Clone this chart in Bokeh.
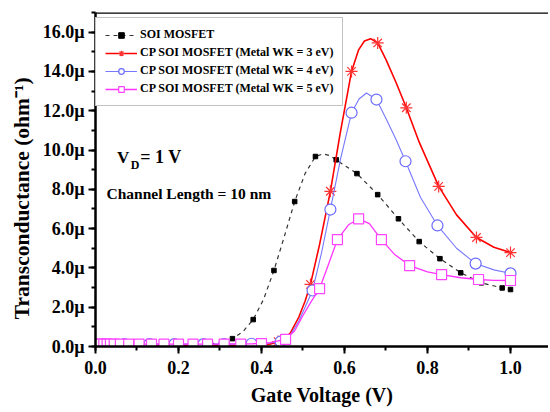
from bokeh.plotting import figure
from bokeh.models import (Range1d, SingleIntervalTicker, PrintfTickFormatter, Legend, LegendItem,
                          Label, Span)
from bokeh.embed import file_html
from bokeh.resources import INLINE

# ---- data (transconductance in micro-ohm^-1) ----
soi_x = [0.03, 0.08, 0.13, 0.18, 0.23, 0.28, 0.33, 0.38, 0.43, 0.48, 0.53, 0.58, 0.63, 0.68,
         0.73, 0.78, 0.83, 0.88, 0.93, 0.98, 1.0]
soi_y = [0.0, 0.0, 0.0, 0.0, 0.01, 0.05, 0.4, 1.37, 3.87, 7.38, 9.67, 9.5, 8.8, 7.73,
         6.5, 5.34, 4.47, 3.75, 3.24, 2.98, 2.9]
soi_curve_x = [0.0, 0.1, 0.2, 0.25, 0.28, 0.30, 0.33, 0.355, 0.38, 0.405, 0.43, 0.455, 0.48,
               0.505, 0.53, 0.548, 0.565, 0.58, 0.63, 0.68, 0.73, 0.78, 0.83, 0.88, 0.93, 0.98, 1.0]
soi_curve_y = [0.0, 0.0, 0.0, 0.01, 0.05, 0.12, 0.4, 0.75, 1.37, 2.4, 3.87, 5.6, 7.38,
               8.8, 9.67, 9.8, 9.72, 9.5, 8.8, 7.73, 6.5, 5.34, 4.47, 3.75, 3.24, 2.98, 2.9]

red_x = [0.44, 0.518, 0.566, 0.617, 0.68, 0.749, 0.827, 0.918, 1.0]
red_y = [0.25, 3.16, 7.9, 14.0, 15.45, 12.15, 8.15, 5.55, 4.78]
red_curve_x = [0.0, 0.1, 0.2, 0.3, 0.38, 0.42, 0.45, 0.47, 0.49, 0.505, 0.518, 0.54, 0.566,
               0.59, 0.617, 0.634, 0.648, 0.663, 0.68, 0.70, 0.725, 0.749, 0.78, 0.827, 0.87,
               0.918, 0.96, 1.0]
red_curve_y = [0.05, 0.05, 0.05, 0.05, 0.06, 0.12, 0.3, 0.7, 1.5, 2.3, 3.16, 5.2, 7.9,
               10.9, 14.0, 15.1, 15.55, 15.67, 15.45, 14.6, 13.4, 12.15, 10.4, 8.15, 6.7,
               5.55, 5.05, 4.78]

blue_x = [0.02, 0.07, 0.13, 0.19, 0.26, 0.31, 0.376, 0.446, 0.523, 0.566, 0.617, 0.677,
          0.747, 0.824, 0.916, 1.0]
blue_y = [0.12, 0.12, 0.12, 0.12, 0.12, 0.12, 0.14, 0.25, 2.85, 6.97, 11.9, 12.57,
          9.43, 6.16, 4.22, 3.72]
blue_curve_x = [0.0, 0.1, 0.2, 0.3, 0.38, 0.42, 0.446, 0.47, 0.49, 0.505, 0.523, 0.545, 0.566,
                0.59, 0.617, 0.635, 0.653, 0.677, 0.70, 0.725, 0.747, 0.783, 0.824, 0.87,
                0.916, 0.96, 1.0]
blue_curve_y = [0.12, 0.12, 0.12, 0.12, 0.14, 0.18, 0.25, 0.6, 1.3, 2.0, 2.85, 4.8, 6.97,
                9.5, 11.9, 12.6, 12.9, 12.57, 11.6, 10.5, 9.43, 7.6, 6.16, 5.0,
                4.22, 3.9, 3.72]

pink_x = [0.005, 0.012, 0.02, 0.028, 0.036, 0.045, 0.06, 0.08, 0.105, 0.135, 0.165, 0.2,
          0.235, 0.27, 0.31, 0.35, 0.4, 0.458, 0.54, 0.583, 0.634, 0.689, 0.757, 0.834,
          0.923, 1.0]
pink_y = [0.12, 0.12, 0.12, 0.12, 0.12, 0.12, 0.12, 0.12, 0.12, 0.12, 0.12, 0.12,
          0.12, 0.12, 0.12, 0.12, 0.15, 0.36, 2.95, 5.44, 6.5, 5.44, 4.12, 3.66,
          3.41, 3.36]
pink_curve_x = [0.0, 0.1, 0.2, 0.3, 0.38, 0.42, 0.458, 0.48, 0.50, 0.52, 0.54, 0.56, 0.583,
                0.61, 0.634, 0.66, 0.689, 0.72, 0.757, 0.80, 0.834, 0.88, 0.923, 0.96, 1.0]
pink_curve_y = [0.12, 0.12, 0.12, 0.12, 0.14, 0.2, 0.36, 0.8, 1.58, 2.3, 2.95, 4.1, 5.44,
                6.2, 6.5, 6.25, 5.44, 4.7, 4.12, 3.8, 3.66, 3.5, 3.41, 3.37, 3.36]

labels = ["SOI MOSFET",
          "CP SOI MOSFET (Metal WK = 3 eV)",
          "CP SOI MOSFET (Metal WK = 4 eV)",
          "CP SOI MOSFET (Metal WK = 5 eV)"]

FONT = "Liberation Serif"

p = figure(width=548, height=410, output_backend="svg", toolbar_location=None,
           x_range=Range1d(0, 1.0916), y_range=Range1d(0, 17.0),
           min_border_left=95, min_border_right=0, min_border_top=12, min_border_bottom=64)
p.outline_line_color = None
p.grid.visible = False
p.background_fill_color = "white"

# axes
p.xaxis.ticker = SingleIntervalTicker(interval=0.2, num_minor_ticks=2)
p.yaxis.ticker = SingleIntervalTicker(interval=2.0, num_minor_ticks=2)
p.yaxis.formatter = PrintfTickFormatter(format="%.1fµ")
p.xaxis.formatter = PrintfTickFormatter(format="%.1f")
for ax in (p.xaxis, p.yaxis):
    ax.axis_line_width = 2.5
    ax.axis_line_color = "black"
    ax.major_tick_line_width = 2
    ax.minor_tick_line_width = 2
    ax.major_tick_in = 0
    ax.major_tick_out = 7
    ax.minor_tick_in = 0
    ax.minor_tick_out = 4
    ax.major_label_text_font = FONT
    ax.major_label_text_font_style = "bold"
    ax.major_label_text_font_size = "18px"
    ax.major_label_text_color = "black"
    ax.axis_label_text_font = FONT
    ax.axis_label_text_font_style = "bold"
    ax.axis_label_text_color = "black"
p.xaxis.axis_label_text_font_size = "20px"
p.yaxis.axis_label_text_font_size = "21.5px"
p.xaxis.major_label_standoff = 7
p.yaxis.major_label_standoff = 4
p.xaxis.axis_label = "Gate Voltage (V)"
p.xaxis.axis_label_standoff = 7
p.yaxis.axis_label = "Transconductance (ohm⁻¹)" + "\u00a0" * 7
p.yaxis.axis_label_standoff = 6

p.add_layout(Span(location=17.0, dimension="width", line_color="black", line_width=2.5))

# series
l0 = p.line(soi_curve_x, soi_curve_y, line_color="#333333", line_width=1.2, line_dash="4 4")
s0 = p.scatter(soi_x, soi_y, marker="square", size=4.5, fill_color="black", line_color="black")

l1 = p.line(red_curve_x, red_curve_y, line_color="#ff0000", line_width=1.6)
s1 = p.scatter(red_x, red_y, marker="asterisk", size=12, line_color="#ff3333", line_width=1.2)

l2 = p.line(blue_curve_x, blue_curve_y, line_color="#7777ff", line_width=1.1)
s2 = p.scatter(blue_x, blue_y, marker="circle", size=11, fill_color="white", line_color="#6a6aff",
               line_width=1.2)

l3 = p.line(pink_curve_x, pink_curve_y, line_color="#ff33ff", line_width=1.3)
s3 = p.scatter(pink_x, pink_y, marker="square", size=10, fill_color="white", line_color="#ff44ff",
               line_width=1.2)

legend = Legend(items=[LegendItem(label=labels[0], renderers=[l0, s0]),
                       LegendItem(label=labels[1], renderers=[l1, s1]),
                       LegendItem(label=labels[2], renderers=[l2, s2]),
                       LegendItem(label=labels[3], renderers=[l3, s3])],
                location=(0, 240))
legend.label_text_font = FONT
legend.label_text_font_style = "bold"
legend.label_text_font_size = "12px"
legend.label_text_color = "black"
legend.glyph_width = 32
legend.glyph_height = 14
legend.label_height = 14
legend.spacing = 3
legend.padding = 9
legend.margin = 0
legend.label_standoff = 3
legend.border_line_color = "#888888"
legend.border_line_width = 1
legend.background_fill_color = "white"
legend.background_fill_alpha = 1.0
p.add_layout(legend)

# annotations
p.add_layout(Label(x=0.052, y=9.16, text="V", text_font=FONT, text_font_style="bold",
                   text_font_size="17px", text_color="black"))
p.add_layout(Label(x=0.085, y=8.9, text="D", text_font=FONT, text_font_style="bold",
                   text_font_size="12px", text_color="black"))
p.add_layout(Label(x=0.108, y=9.16, text=" = 1 V", text_font=FONT, text_font_style="bold",
                   text_font_size="18px", text_color="black"))
p.add_layout(Label(x=0.0265, y=7.33, text="Channel Length = 10 nm", text_font=FONT,
                   text_font_style="bold", text_font_size="15.5px", text_color="black"))

open("out.html", "w").write(file_html(p, INLINE))
